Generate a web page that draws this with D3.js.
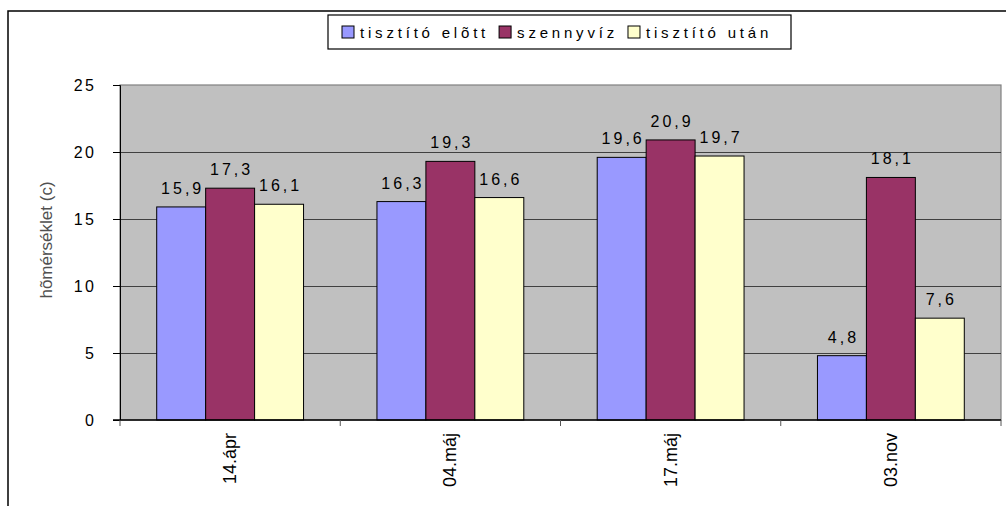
<!DOCTYPE html>
<html>
<head>
<meta charset="utf-8">
<script src="https://cdn.jsdelivr.net/npm/d3@7"></script>
<style>
  body { margin: 0; background: #fff; }
  text { font-family: "Liberation Sans", Arial, sans-serif; }
</style>
</head>
<body>
<div id="chart"></div>
<script>
// data
var categories = ["14.ápr", "04.máj", "17.máj", "03.nov"];
var seriesNames = ["tisztító elõtt", "szennyvíz", "tisztító után"];
var seriesColors = ["#9999FF", "#993366", "#FFFFCC"];
var beforeValues = [15.9, 16.3, 19.6, 4.8];
var sewageValues = [17.3, 19.3, 20.9, 18.1];
var afterValues = [16.1, 16.6, 19.7, 7.6];
var yTicks = [0, 5, 10, 15, 20, 25];

var allValues = [beforeValues, sewageValues, afterValues];

var width = 1006, height = 506;
var plot = {left: 120, right: 1001, top: 85, bottom: 420};

var svg = d3.select("#chart").append("svg")
    .attr("width", width)
    .attr("height", height);

// outer chart frame (runs off the right/bottom edge)
svg.append("rect")
    .attr("x", 8).attr("y", 11)
    .attr("width", width + 20).attr("height", height + 20)
    .attr("fill", "none")
    .attr("stroke", "#000")
    .attr("stroke-width", 1.5);

var x0 = d3.scaleBand().domain(categories).range([plot.left, plot.right]).padding(0);
var x1 = d3.scaleBand().domain(d3.range(seriesNames.length))
    .range([0, x0.bandwidth()]).paddingInner(0).paddingOuter(0.75);
var y = d3.scaleLinear().domain([0, 25]).range([plot.bottom, plot.top]);

// plot background
svg.append("rect")
    .attr("x", plot.left).attr("y", plot.top)
    .attr("width", plot.right - plot.left).attr("height", plot.bottom - plot.top)
    .attr("fill", "#C0C0C0")
    .attr("stroke", "#808080")
    .attr("stroke-width", 1.2);

// gridlines
svg.append("g").selectAll("line")
    .data(yTicks.filter(function(d){ return d > 0 && d < 25; }))
    .enter().append("line")
    .attr("x1", plot.left).attr("x2", plot.right)
    .attr("y1", function(d){ return Math.round(y(d)) + 0.5; })
    .attr("y2", function(d){ return Math.round(y(d)) + 0.5; })
    .attr("stroke", "#404040")
    .attr("stroke-width", 1);

// bars
var groups = svg.append("g").selectAll("g")
    .data(categories)
    .enter().append("g")
    .attr("transform", function(d){ return "translate(" + x0(d) + ",0)"; });

groups.selectAll("rect")
    .data(function(d, i){ return allValues.map(function(s, j){ return {s: j, v: s[i]}; }); })
    .enter().append("rect")
    .attr("x", function(d){ return x1(d.s); })
    .attr("y", function(d){ return y(d.v); })
    .attr("width", x1.bandwidth())
    .attr("height", function(d){ return y(0) - y(d.v); })
    .attr("fill", function(d){ return seriesColors[d.s]; })
    .attr("stroke", "#000")
    .attr("stroke-width", 1);

groups.selectAll("text")
    .data(function(d, i){ return allValues.map(function(s, j){ return {s: j, v: s[i]}; }); })
    .enter().append("text")
    .attr("x", function(d){ return x1(d.s) + x1.bandwidth() / 2 + 1.5; })
    .attr("y", function(d){ return y(d.v) - 13; })
    .attr("text-anchor", "middle")
    .attr("font-size", 16)
    .attr("letter-spacing", 3)
    .attr("fill", "#000")
    .text(function(d){ return String(d.v).replace(".", ","); });

// y axis
var yAxis = svg.append("g")
    .attr("transform", "translate(" + plot.left + ",0)")
    .call(d3.axisLeft(y).tickValues(yTicks).tickSize(7).tickPadding(19));
yAxis.select(".domain").attr("stroke", "#000");
yAxis.selectAll(".tick line").attr("stroke", "#000");
yAxis.selectAll(".tick text")
    .attr("font-size", 16)
    .attr("letter-spacing", 2.5)
    .attr("dx", 2.5)
    .attr("fill", "#000")
    .attr("font-family", "Liberation Sans, Arial, sans-serif");

// x axis line and boundary ticks
var xAxis = svg.append("g").attr("transform", "translate(0," + plot.bottom + ")");
xAxis.append("line")
    .attr("x1", plot.left - 7).attr("x2", plot.right)
    .attr("stroke", "#000").attr("stroke-width", 1.5);
xAxis.selectAll("line.tk")
    .data(categories.concat(["end"]))
    .enter().append("line")
    .attr("class", "tk")
    .attr("x1", function(d, i){ return i < categories.length ? x0(d) : plot.right; })
    .attr("x2", function(d, i){ return i < categories.length ? x0(d) : plot.right; })
    .attr("y1", 0).attr("y2", 6)
    .attr("stroke", "#555");
xAxis.selectAll("text")
    .data(categories)
    .enter().append("text")
    .attr("transform", function(d){
        return "translate(" + (x0(d) + x0.bandwidth() / 2 + 6) + ",13) rotate(-90)";
    })
    .attr("text-anchor", "end")
    .attr("font-size", 18)
    .attr("fill", "#000")
    .text(function(d){ return d; });

// y axis title
svg.append("text")
    .attr("transform", "translate(52,240) rotate(-90)")
    .attr("text-anchor", "middle")
    .attr("font-size", 17)
    .attr("fill", "#505050")
    .text("hõmérséklet (c)");

// legend
var legend = svg.append("g");
legend.append("rect")
    .attr("x", 328).attr("y", 15)
    .attr("width", 463).attr("height", 34)
    .attr("fill", "#fff")
    .attr("stroke", "#000")
    .attr("stroke-width", 1.2);

var lx = 342;
seriesNames.forEach(function(name, i){
    legend.append("rect")
        .attr("x", lx).attr("y", 26)
        .attr("width", 12).attr("height", 12)
        .attr("fill", seriesColors[i])
        .attr("stroke", "#000");
    var t = legend.append("text")
        .attr("x", lx + 18).attr("y", 38)
        .attr("font-size", 15)
        .attr("letter-spacing", 3.8)
        .attr("fill", "#000")
        .text(name);
    lx += 18 + t.node().getComputedTextLength() + 10;
});
</script>
</body>
</html>
